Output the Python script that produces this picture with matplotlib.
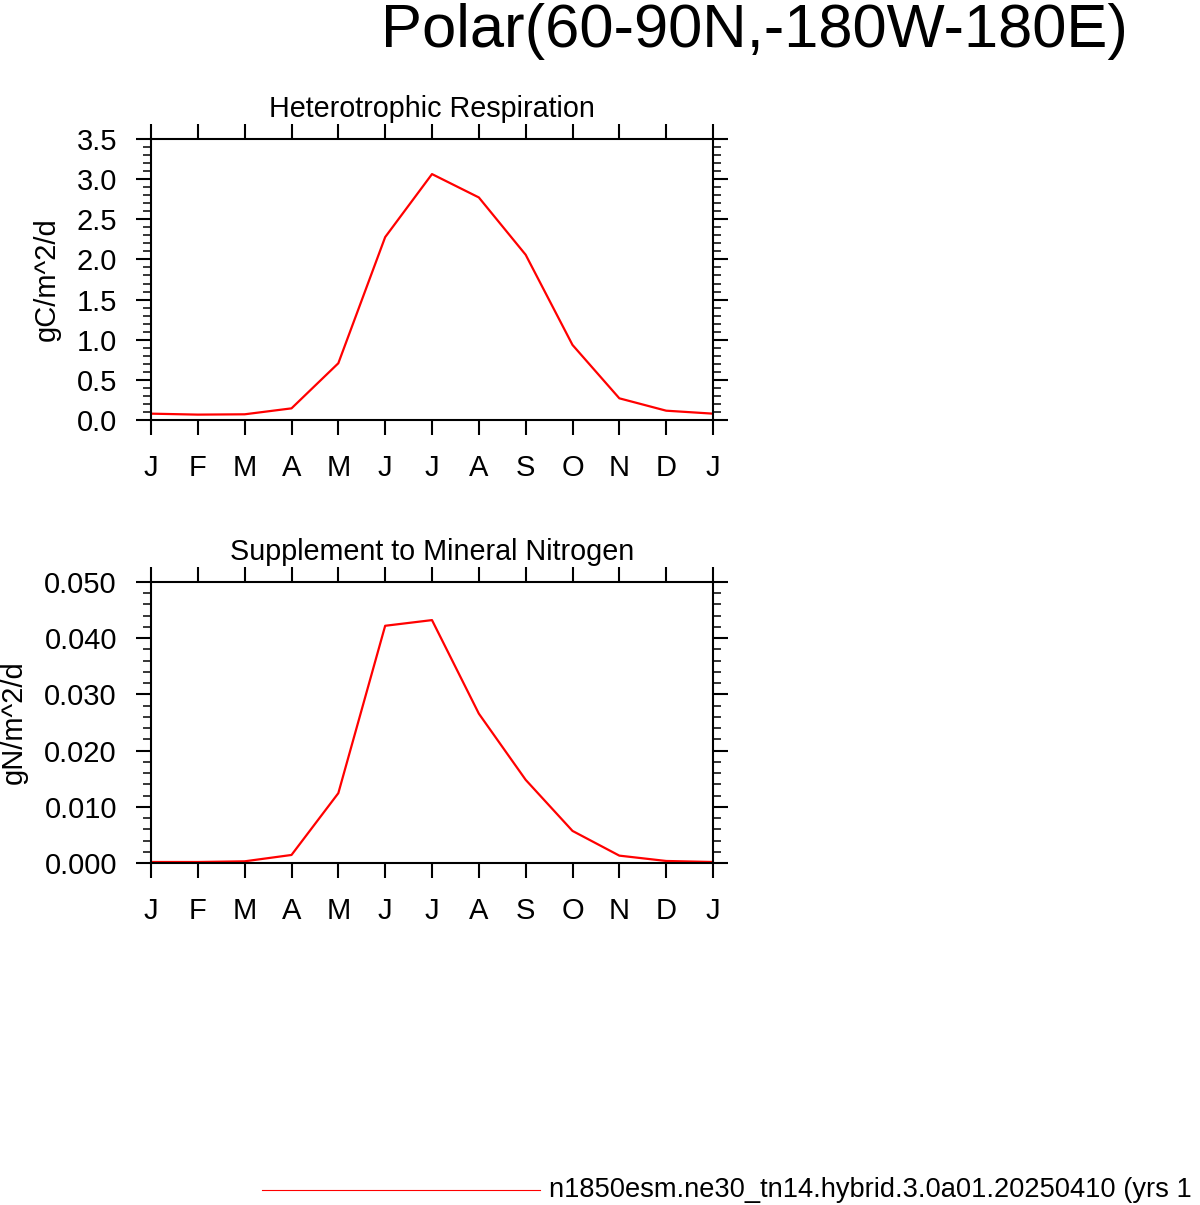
import numpy as np
import matplotlib
matplotlib.use("Agg")
from matplotlib import pyplot as plt
from matplotlib.lines import Line2D
from matplotlib.ticker import MultipleLocator

plt.rcParams['font.family'] = ['Liberation Sans', 'DejaVu Sans']

meses = ["J", "F", "M", "A", "M", "J", "J", "A", "S", "O", "N", "D", "J"]

# gC/m^2/d
resp_het = [0.079, 0.067, 0.071, 0.145, 0.707, 2.278, 3.063, 2.772, 2.058, 0.935, 0.270, 0.116, 0.079]
# gN/m^2/d
supl_nitro = [0.00018, 0.00018, 0.0003, 0.00143, 0.01243, 0.04221, 0.04322, 0.02658, 0.01480, 0.00571, 0.00131, 0.00036, 0.00018]

titulo = "Polar(60-90N,-180W-180E)"
caso = "n1850esm.ne30_tn14.hybrid.3.0a01.20250410 (yrs 1"

W, H = 1200, 1205
fig = plt.figure(figsize=(W / 100, H / 100), dpi=100)


def panel(top_px, valores, ymax, major, minor, fmt, subtitulo, ylabel, ylabel_x):
    ax = fig.add_axes([151 / W, 1 - (top_px + 281) / H, 562 / W, 281 / H])
    x = np.arange(len(valores))
    ax.plot(x, valores, color="red", lw=1.6)
    ax.set_xlim(0, 12)
    ax.set_ylim(0, ymax)
    ax.set_xticks(x)
    ax.set_xticklabels(meses)
    ax.yaxis.set_major_locator(MultipleLocator(major))
    ax.yaxis.set_minor_locator(MultipleLocator(minor))
    ax.yaxis.set_major_formatter(fmt)
    ax.tick_params(axis="both", which="major", direction="out", length=10.5, width=1.5,
                   labelsize=21, pad=14, top=True, right=True)
    ax.tick_params(axis="y", which="minor", direction="out", length=6, width=1.1,
                   left=True, right=True)
    for s in ax.spines.values():
        s.set_linewidth(1.5)
    fig.text(432 / W, 1 - (top_px - 22) / H, subtitulo, ha="center", va="baseline", fontsize=20.7)
    fig.text(ylabel_x / W, 1 - (top_px + 140) / H, ylabel, rotation=90, ha="center",
             va="center", fontsize=21)
    return ax


panel(139, resp_het, 3.5, 0.5, 0.1, "{x:.1f}", "Heterotrophic Respiration", "gC/m^2/d", 47)
panel(582, supl_nitro, 0.05, 0.01, 0.002, "{x:.3f}", "Supplement to Mineral Nitrogen", "gN/m^2/d", 14)

fig.text(754 / W, 1 - 47 / H, titulo, ha="center", va="baseline", fontsize=44.3)

fig.add_artist(Line2D([262 / W, 540 / W], [1 - 1190 / H, 1 - 1190 / H], color="red", lw=0.8))
fig.text(549 / W, 1 - 1190 / H, caso, ha="left", va="center", fontsize=19.6)

fig.savefig("out.png", dpi=100)
